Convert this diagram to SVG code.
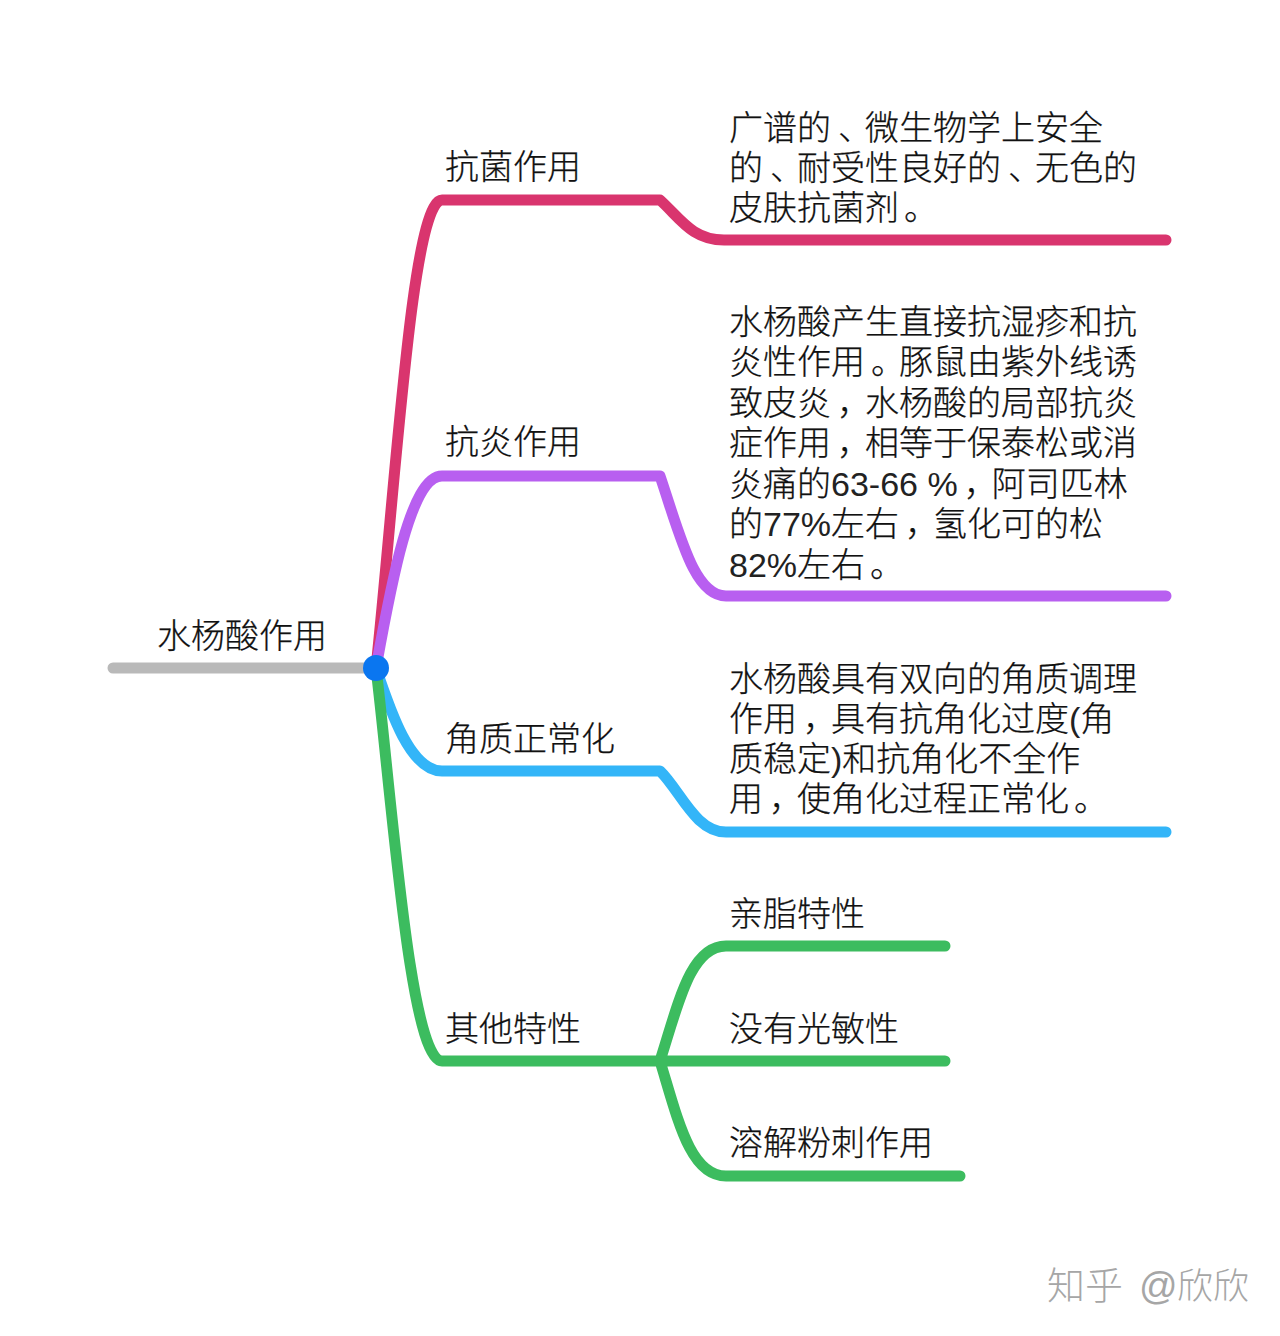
<svg xmlns="http://www.w3.org/2000/svg" width="1280" height="1336" viewBox="0 0 1280 1336">
<style>
.c{fill:none;stroke-width:11;stroke-linecap:round;stroke-linejoin:round}
text{font-family:"Liberation Sans","Noto Sans CJK SC",sans-serif;font-size:34px;font-weight:300;fill:#111;stroke:#111;stroke-width:.25px}
.p{letter-spacing:-7px}
.q{letter-spacing:-6px}
.n{stroke:none;fill:#222}
text.w{font-size:38px;fill:#a6a6a6;stroke:none}
.w2{font-size:36px}
</style>
<rect width="1280" height="1336" fill="#fff"/>
<g id="connectors">
<path class="c" stroke="#b9b9b9" d="M113 668H376"/>
<path class="c" stroke="#d9356e" d="M376 668C396 480 412 200 442 200H660C680 218 692 240 724 240H1166"/>
<path class="c" stroke="#b85ff0" d="M376 668C390 590 410 476 442 476H660C680 535 694 596 726 596H1166"/>
<path class="c" stroke="#33b5f8" d="M376 668C390 710 410 771 442 771H660C680 790 695 832 726 832H1166"/>
<path class="c" stroke="#3cbc5f" d="M376 668C392 800 410 1061 442 1061H660C678 1005 690 946 726 946H945M660 1061H945M660 1061C678 1120 690 1176 726 1176H960"/>
</g>
<circle id="hub" cx="376" cy="668" r="13" fill="#0a76f0"/>
<g id="root"><text x="157" y="648">水杨酸作用</text></g>
<g id="n1"><text x="445" y="179">抗菌作用</text></g>
<g id="n2"><text x="445" y="454">抗炎作用</text></g>
<g id="n3"><text x="445" y="751">角质正常化</text></g>
<g id="n4"><text x="445" y="1041">其他特性</text></g>
<g id="t1"><text x="729" y="140">广谱的<tspan class="p" dx="7">、</tspan>微生物学上安全</text><text x="729" y="180">的<tspan class="p" dx="7">、</tspan>耐受性良好的<tspan class="p" dx="7">、</tspan>无色的</text><text x="729" y="220">皮肤抗菌剂<tspan dx="5">。</tspan></text></g>
<g id="t2"><text x="729" y="334">水杨酸产生直接抗湿疹和抗</text><text x="729" y="374">炎性作用<tspan class="q" dx="6">。</tspan>豚鼠由紫外线诱</text><text x="729" y="415">致皮炎<tspan class="q" dx="6">，</tspan>水杨酸的局部抗炎</text><text x="729" y="455">症作用<tspan class="q" dx="6">，</tspan>相等于保泰松或消</text><text x="729" y="496">炎痛的<tspan class="n">63-66 %</tspan><tspan class="q" dx="6">，</tspan>阿司匹林</text><text x="729" y="536">的<tspan class="n">77%</tspan>左右<tspan class="q" dx="6">，</tspan>氢化可的松</text><text x="729" y="577"><tspan class="n">82%</tspan>左右<tspan dx="5">。</tspan></text></g>
<g id="t3"><text x="729" y="691">水杨酸具有双向的角质调理</text><text x="729" y="731">作用<tspan class="q" dx="6">，</tspan>具有抗角化过度<tspan class="n">(</tspan>角</text><text x="729" y="771">质稳定<tspan class="n">)</tspan>和抗角化不全作</text><text x="729" y="811">用<tspan class="q" dx="6">，</tspan>使角化过程正常化<tspan dx="5">。</tspan></text></g>
<g id="s1"><text x="729" y="926">亲脂特性</text></g>
<g id="s2"><text x="729" y="1041">没有光敏性</text></g>
<g id="s3"><text x="729" y="1155">溶解粉刺作用</text></g>
<text id="watermark" class="w" y="1299"><tspan x="1047">知乎</tspan> <tspan x="1139">@</tspan><tspan class="w2" x="1177">欣欣</tspan></text>
</svg>
